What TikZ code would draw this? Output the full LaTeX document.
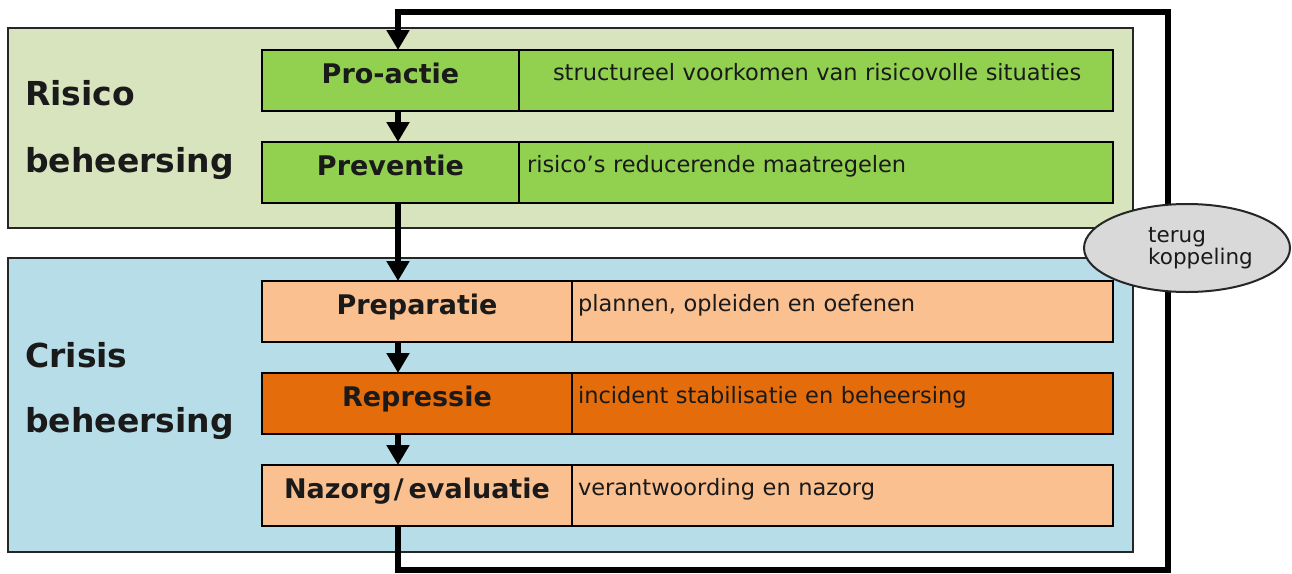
\documentclass[tikz,border=0pt]{standalone}
\usepackage{fontspec}
\setmainfont{DejaVu Sans}
\usetikzlibrary{arrows.meta,shapes.geometric}
\definecolor{riskpanel}{HTML}{D7E4BD}
\definecolor{riskbox}{HTML}{92D050}
\definecolor{crisispanel}{HTML}{B7DDE8}
\definecolor{crisisbox}{HTML}{FAC090}
\definecolor{crisishot}{HTML}{E46C0A}
\definecolor{edgegray}{HTML}{262626}
\definecolor{bubble}{HTML}{D9D9D9}
\definecolor{ink}{HTML}{1A1A1A}

\begin{document}
\begin{tikzpicture}[x=1pt,y=-1pt,
  panel/.style={draw=edgegray, line width=2pt, inner sep=0pt, outer sep=0pt, anchor=north west},
  phase/.style={draw=black, line width=2pt, inner sep=0pt, outer sep=0pt, anchor=north west,
    minimum height=61pt, text height=33pt, text depth=28pt, text=ink,
    font=\fontsize{27pt}{32pt}\selectfont\bfseries},
  note/.style={draw=black, line width=2pt, inner sep=0pt, outer sep=0pt, anchor=north west,
    minimum height=61pt, text height=30pt, text depth=31pt, align=left, text=ink,
    font=\fontsize{22.5pt}{27pt}\selectfont},
  heading/.style={anchor=base west, inner sep=0pt, text=ink,
    font=\fontsize{33pt}{40pt}\selectfont\bfseries},
  flow/.style={line width=6pt, -{Triangle[width=22pt,length=20pt]}},
  loopline/.style={line width=6pt, line join=miter, -{Triangle[width=22pt,length=20pt]}},
  bubblestyle/.style={ellipse, draw=edgegray, line width=2pt, fill=bubble, inner sep=0pt,
    minimum width=206pt, minimum height=88pt},
  bubbletext/.style={align=left, inner sep=0pt, text=ink,
    font=\fontsize{21.5pt}{22pt}\selectfont}
]
\useasboundingbox (0,0) rectangle (1292,573);

% background panels
\node[panel, fill=riskpanel, minimum width=1125pt, minimum height=200pt] (risk) at (8,28) {};
\node[panel, fill=crisispanel, minimum width=1125pt, minimum height=294pt] (crisis) at (8,258) {};

% panel headings
\node[heading] (riskA) at (25,105) {Risico};
\node[heading] (riskB) at (25,172) {beheersing};
\node[heading] (crisisA) at (25,367) {Crisis};
\node[heading] (crisisB) at (25,432) {beheersing};

% risk management phases
\node[phase, fill=riskbox, minimum width=257pt] (proactie) at (262,50) {Pro-actie};
\node[note, fill=riskbox, text width=594pt] (proactieN) at (proactie.north east)
  {\hspace*{34pt}structureel voorkomen van risicovolle situaties};
\node[phase, fill=riskbox, minimum width=257pt] (preventie) at (262,142) {Preventie};
\node[note, fill=riskbox, text width=594pt] (preventieN) at (preventie.north east)
  {\hspace*{8pt}risico's reducerende maatregelen};

% crisis management phases
\node[phase, fill=crisisbox, minimum width=310pt] (preparatie) at (262,281) {Preparatie};
\node[note, fill=crisisbox, text width=541pt] (preparatieN) at (preparatie.north east)
  {\hspace*{6pt}plannen, opleiden en oefenen};
\node[phase, fill=crisishot, minimum width=310pt] (repressie) at (262,373) {Repressie};
\node[note, fill=crisishot, text width=541pt] (repressieN) at (repressie.north east)
  {\hspace*{6pt}incident stabilisatie en beheersing};
\node[phase, fill=crisisbox, minimum width=310pt] (nazorg) at (262,465)
  {Nazorg\kern2pt/\kern5pt evaluatie};
\node[note, fill=crisisbox, text width=541pt] (nazorgN) at (nazorg.north east)
  {\hspace*{6pt}verantwoording en nazorg};

% flow between phases
\coordinate (spine) at (398,0);
\draw[flow] (proactie.south -| spine) -- (preventie.north -| spine);
\draw[flow] (preventie.south -| spine) -- (preparatie.north -| spine);
\draw[flow] (preparatie.south -| spine) -- (repressie.north -| spine);
\draw[flow] (repressie.south -| spine) -- (nazorg.north -| spine);

% feedback loop
\coordinate (loopSE) at (1168,570);
\coordinate (loopNE) at (1168,12);
\draw[loopline] (nazorg.south -| spine) |- (loopSE) -- (loopNE) -| (proactie.north -| spine);

% feedback bubble
\node[bubblestyle] (fb) at (1187,248) {};
\node[bubbletext] (fbtext) at ([xshift=13.5pt]fb.center) {terug\\koppeling};
\end{tikzpicture}
\end{document}
